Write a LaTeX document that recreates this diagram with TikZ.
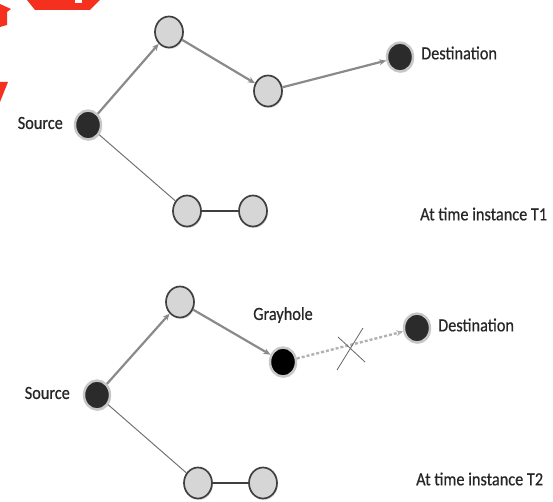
\documentclass[tikz,border=0pt]{standalone}
\usepackage{fontspec}
\setmainfont{Carlito}[FakeStretch=0.88, FakeBold=0.6]
\usetikzlibrary{arrows.meta,shapes.geometric,shadows}
\definecolor{lightnode}{HTML}{D6D6D6}
\definecolor{darknode}{HTML}{2B2B2B}
\definecolor{edgegray}{HTML}{8A8A8A}
\definecolor{redmark}{HTML}{F5301E}
\tikzset{
  lnode/.style={ellipse, minimum width=28pt, minimum height=31pt, inner sep=0pt, fill=lightnode, draw=black!75, line width=1.7pt,
     drop shadow={shadow xshift=1pt, shadow yshift=-1.5pt, opacity=0.25}},
  dnode/.style={ellipse, minimum width=26pt, minimum height=29pt, inner sep=0pt, fill=darknode, draw=black!22, line width=2.4pt,
     drop shadow={shadow xshift=1pt, shadow yshift=-1.5pt, opacity=0.25}},
  bnode/.style={dnode, fill=black},
  lbl/.style={font=\fontsize{18.5}{20}\selectfont, text=black!85, inner sep=0pt},
  arr/.style={draw=edgegray, line width=2.2pt, -{Stealth[length=7pt,width=6pt]}},
  thin/.style={draw=black!55, line width=1pt},
  link/.style={draw=black!75, line width=1.6pt},
  broken/.style={draw=black!30, line width=2.4pt, dash pattern=on 3pt off 2pt, -{Stealth[length=7pt,width=6pt]}},
  cross/.style={draw=black!60, line width=0.8pt},
}
\begin{document}
\begin{tikzpicture}[x=1pt,y=-1pt]
\useasboundingbox (0,0) rectangle (553,502);
% red fragments in the corner
\fill[redmark] (27,0) -- (100,0) -- (90,10) -- (35,10) -- cycle;
\fill[white] (75,0) rectangle (82,3);
\fill[redmark] (0,4) -- (11,9) -- (7,12) -- (7,25) -- (0,27) -- cycle;
\fill[redmark] (0,82) -- (8,82) -- (0,102) -- cycle;

% ---------- T1 ----------
\node[dnode] (s1) at (88,125) {};
\node[lnode] (a1) at (169,32) {};
\node[lnode] (b1) at (268,91) {};
\node[dnode] (d1) at (400,57) {};
\node[lnode] (c1) at (187,211) {};
\node[lnode] (e1) at (253,211) {};
\node[lbl, anchor=east] (ls1) at (63,123) {Source};
\node[lbl, anchor=west] (ld1) at (421,53) {Destination};
\node[lbl, anchor=west] (t1) at (420,214) {At time instance T1};
\draw[arr] (s1) -- (a1);
\draw[arr] (a1) -- (b1);
\draw[arr] (b1) -- (d1);
\draw[thin] (s1) -- (c1);
\draw[link] (c1) -- (e1);

% ---------- T2 ----------
\node[dnode] (s2) at (97,395) {};
\node[lnode] (a2) at (180,302) {};
\node[bnode] (g2) at (283,362) {};
\node[dnode] (d2) at (417,328) {};
\node[lnode] (c2) at (198,483) {};
\node[lnode] (e2) at (263,483) {};
\node[lbl, anchor=east] (ls2) at (70,393) {Source};
\node[lbl] (lg2) at (283,315) {Grayhole};
\node[lbl, anchor=west] (ld2) at (438,325) {Destination};
\node[lbl, anchor=west] (t2) at (416,479) {At time instance T2};
\draw[arr] (s2) -- (a2);
\draw[arr] (a2) -- (g2);
\draw[broken] (g2) -- (d2);
\draw[thin] (s2) -- (c2);
\draw[link] (c2) -- (e2);
\coordinate (x1) at (337,370);
\coordinate (x2) at (363,328);
\coordinate (x3) at (338,337);
\coordinate (x4) at (365,362);
\draw[cross] (x1) -- (x2);
\draw[cross] (x3) -- (x4);
\end{tikzpicture}
\end{document}
